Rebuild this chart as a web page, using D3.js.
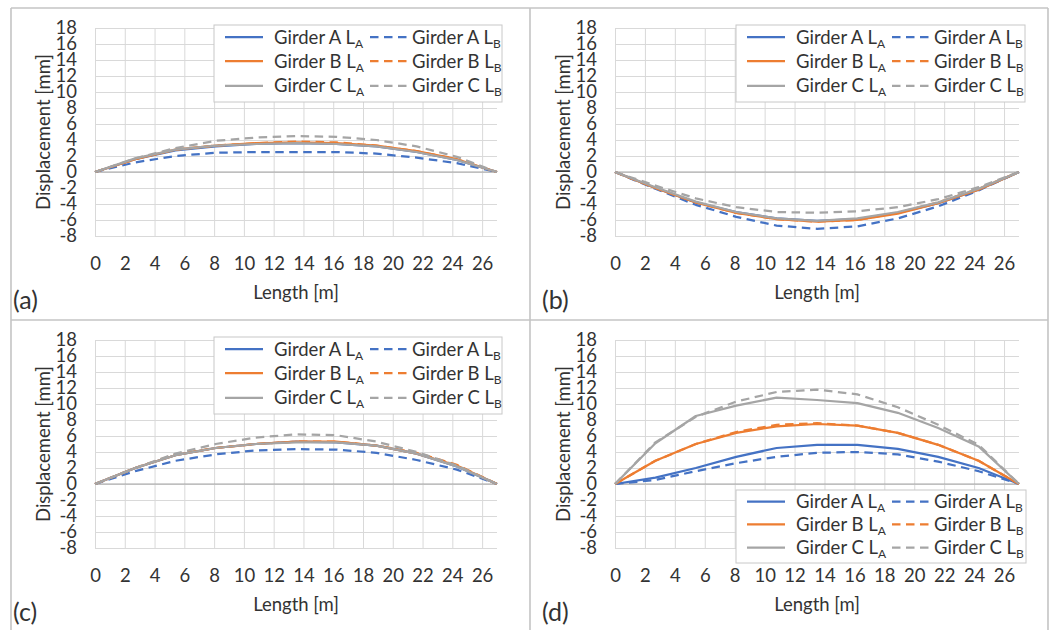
<!DOCTYPE html>
<html><head><meta charset="utf-8">
<script src="https://cdn.jsdelivr.net/npm/d3@7"></script>
<style>
html,body{margin:0;padding:0;background:#fff;}
svg text{font-family:Lato,"Open Sans",sans-serif;fill:#333;}
</style></head>
<body>
<svg id="chart" width="1054" height="630"></svg>
<script>
// ---------- data ----------
const positions = [0, 2.7, 5.4, 8.1, 10.8, 13.5, 16.2, 18.9, 21.6, 24.3, 27];
const xTicks = [0,2,4,6,8,10,12,14,16,18,20,22,24,26];
const yTicks = [-8,-6,-4,-2,0,2,4,6,8,10,12,14,16,18];
const girders = ["A","B","C"];
const loadCases = ["A","B"];

// panel (a)
const a_A_LA = [0,1.6,2.7,3.2,3.5,3.6,3.5,3.2,2.5,1.5,0];
const a_A_LB = [0,1.2,2.0,2.4,2.5,2.5,2.5,2.3,1.8,1.1,0];
const a_B_LA = [0,1.6,2.8,3.3,3.6,3.7,3.6,3.3,2.6,1.6,0];
const a_B_LB = [0,1.6,2.8,3.3,3.6,3.8,3.7,3.3,2.6,1.6,0];
const a_C_LA = [0,1.7,2.8,3.3,3.5,3.6,3.5,3.2,2.5,1.5,0];
const a_C_LB = [0,1.7,3.0,3.9,4.3,4.5,4.4,4.0,3.2,1.9,0];
// panel (b)
const b_A_LA = [0,-2.0,-3.8,-5.0,-5.8,-6.1,-5.9,-5.1,-3.9,-2.2,0];
const b_A_LB = [0,-2.1,-4.1,-5.6,-6.7,-7.1,-6.8,-5.8,-4.3,-2.3,0];
const b_B_LA = [0,-2.0,-3.8,-5.1,-5.9,-6.2,-6.0,-5.2,-3.9,-2.2,0];
const b_B_LB = [0,-2.0,-3.8,-5.1,-5.9,-6.2,-6.0,-5.1,-3.8,-2.1,0];
const b_C_LA = [0,-1.9,-3.7,-5.0,-5.8,-6.1,-5.8,-5.0,-3.8,-2.1,0];
const b_C_LB = [0,-1.7,-3.3,-4.4,-5.0,-5.1,-4.9,-4.4,-3.4,-1.9,0];
// panel (c)
const c_A_LA = [0,2.0,3.6,4.5,5.0,5.3,5.2,4.8,3.8,2.2,0];
const c_A_LB = [0,1.6,2.9,3.7,4.2,4.35,4.3,3.9,3.0,1.8,0];
const c_B_LA = [0,2.0,3.6,4.5,5.0,5.3,5.3,4.8,3.8,2.3,0];
const c_B_LB = [0,2.0,3.7,4.5,5.0,5.3,5.3,4.8,3.9,2.4,0];
const c_C_LA = [0,2.0,3.6,4.5,5.0,5.2,5.2,4.8,3.8,2.2,0];
const c_C_LB = [0,2.0,3.8,5.0,5.8,6.2,6.1,5.3,4.0,2.3,0];
// panel (d)
const d_A_LA = [0,0.8,2.0,3.4,4.5,4.9,4.9,4.4,3.4,2.0,0];
const d_A_LB = [0,0.5,1.6,2.6,3.4,3.9,4.0,3.7,2.8,1.6,0];
const d_B_LA = [0,2.9,5.0,6.4,7.2,7.5,7.3,6.4,4.9,2.9,0];
const d_B_LB = [0,2.9,5.0,6.5,7.4,7.6,7.3,6.4,4.9,2.9,0];
const d_C_LA = [0,5.1,8.5,9.8,10.8,10.5,10.1,8.9,7.0,4.7,0];
const d_C_LB = [0,5.2,8.4,10.3,11.5,11.8,11.2,9.6,7.4,4.9,0];

const panelTags = ["(a)","(b)","(c)","(d)"];
const xTitle = "Length [m]";
const yTitle = "Displacement [mm]";

// ---------- styles / layout ----------
const colors = {A:"#4472C4", B:"#ED7D31", C:"#A5A5A5"};
const dashes = {A:null, B:"8.5,5.5"};
const fs = 18.5;

const panelData = [
  {A:{A:a_A_LA,B:a_A_LB}, B:{A:a_B_LA,B:a_B_LB}, C:{A:a_C_LA,B:a_C_LB}},
  {A:{A:b_A_LA,B:b_A_LB}, B:{A:b_B_LA,B:b_B_LB}, C:{A:b_C_LA,B:b_C_LB}},
  {A:{A:c_A_LA,B:c_A_LB}, B:{A:c_B_LA,B:c_B_LB}, C:{A:c_C_LA,B:c_C_LB}},
  {A:{A:d_A_LA,B:d_A_LB}, B:{A:d_B_LA,B:d_B_LB}, C:{A:d_C_LA,B:d_C_LB}}
];
const layouts = [
  {left:95,  right:497,  top:28,  bottom:236, lgX:214, lgY:25,  lgW:288, lgH:77, tagX:13,  tagY:300},
  {left:615, right:1019, top:28,  bottom:236, lgX:736, lgY:25,  lgW:289, lgH:77, tagX:542, tagY:300},
  {left:95,  right:497,  top:340, bottom:548, lgX:214, lgY:337, lgW:288, lgH:77, tagX:13,  tagY:612},
  {left:615, right:1019, top:340, bottom:548, lgX:736, lgY:490, lgW:290, lgH:73, tagX:542, tagY:612}
];

const svg = d3.select("#chart");

// cell borders
const bc = "#c4c4c4";
const borders = svg.append("g").attr("stroke", bc).attr("stroke-width", 1.6);
borders.append("line").attr("x1",11).attr("x2",11).attr("y1",8).attr("y2",630);
borders.append("line").attr("x1",530).attr("x2",530).attr("y1",8).attr("y2",630);
borders.append("line").attr("x1",1048).attr("x2",1048).attr("y1",8).attr("y2",630);
borders.append("line").attr("x1",11).attr("x2",1048).attr("y1",8).attr("y2",8);
borders.append("line").attr("x1",11).attr("x2",1048).attr("y1",320).attr("y2",320);

panelData.forEach((pd, i) => {
  const L = layouts[i];
  const g = svg.append("g");
  const x = d3.scaleLinear().domain([0,27]).range([L.left, L.right]);
  const y = d3.scaleLinear().domain([-8,18]).range([L.bottom, L.top]);

  // gridlines
  const gy = g.append("g").attr("transform", `translate(${L.left},0)`)
    .call(d3.axisLeft(y).tickValues(yTicks).tickSize(-(L.right-L.left)).tickFormat(""));
  gy.select(".domain").remove();
  gy.selectAll("line").attr("stroke", "#d9d9d9").attr("stroke-width", 1);
  const gx = g.append("g").attr("transform", `translate(0,${L.bottom})`)
    .call(d3.axisBottom(x).tickValues(xTicks).tickSize(-(L.bottom-L.top)).tickFormat(""));
  gx.select(".domain").remove();
  gx.selectAll("line").attr("stroke", "#d9d9d9").attr("stroke-width", 1);

  // zero line
  g.append("line").attr("x1", x(0)).attr("x2", x(27)).attr("y1", y(0)).attr("y2", y(0))
    .attr("stroke", "#a6a6a6").attr("stroke-width", 1.2);

  // tick labels
  const ay = g.append("g").attr("transform", `translate(${L.left-18},0)`)
    .call(d3.axisLeft(y).tickValues(yTicks).tickSize(0).tickPadding(0).tickFormat(d => String(d)));
  ay.select(".domain").remove();
  ay.selectAll("text").attr("font-size", fs).attr("fill", "#404040")
    .style("font-family", "Lato, sans-serif");
  const ax = g.append("g").attr("transform", `translate(0,${L.bottom+20.5})`)
    .call(d3.axisBottom(x).tickValues(xTicks).tickSize(0).tickPadding(0).tickFormat(d => String(d)));
  ax.select(".domain").remove();
  ax.selectAll("text").attr("font-size", fs).attr("fill", "#404040")
    .style("font-family", "Lato, sans-serif");

  // titles
  g.append("text").attr("x", (L.left+L.right)/2).attr("y", L.bottom+63)
    .attr("text-anchor","middle").attr("font-size",fs).attr("fill","#404040").text(xTitle);
  g.append("text").attr("transform", `translate(${L.left-45},${(L.top+L.bottom)/2}) rotate(-90)`)
    .attr("text-anchor","middle").attr("font-size",fs).attr("fill","#404040").text(yTitle);
  g.append("text").attr("x", L.tagX).attr("y", L.tagY+9)
    .attr("font-size",25).attr("fill","#262626").text(panelTags[i]);

  // lines
  const line = d3.line().x((d,k)=>x(positions[k])).y(d=>y(d));
  girders.forEach(gr => {
    loadCases.forEach(lc => {
      g.append("path").datum(pd[gr][lc]).attr("d", line)
        .attr("fill","none").attr("stroke", colors[gr]).attr("stroke-width", 2.25)
        .attr("stroke-dasharray", dashes[lc]).attr("stroke-linejoin","round");
    });
  });

  // legend
  const lg = g.append("g").attr("transform", `translate(${L.lgX},${L.lgY})`);
  lg.append("rect").attr("x",0).attr("y",0).attr("width",L.lgW).attr("height",L.lgH)
    .attr("fill","#fff").attr("stroke","#c8c8c8").attr("stroke-width",1);
  const rowFr = [0.158, 0.47, 0.79];
  girders.forEach((gr, r) => {
    const cy = L.lgH*rowFr[r];
    loadCases.forEach((lc, c) => {
      const lx0 = c===0 ? 11 : 156;
      const lx1 = c===0 ? 49 : 194;
      const tx = c===0 ? 60 : 198;
      lg.append("line").attr("x1",lx0).attr("x2",lx1).attr("y1",cy).attr("y2",cy)
        .attr("stroke", colors[gr]).attr("stroke-width",2.25).attr("stroke-dasharray", dashes[lc]);
      const t = lg.append("text").attr("x",tx).attr("y",cy+6.5).attr("font-size",fs).attr("fill","#404040");
      t.append("tspan").text(`Girder ${gr} L`);
      t.append("tspan").attr("font-size",12).attr("dy",4).text(lc);
    });
  });
});
</script>
</body></html>
